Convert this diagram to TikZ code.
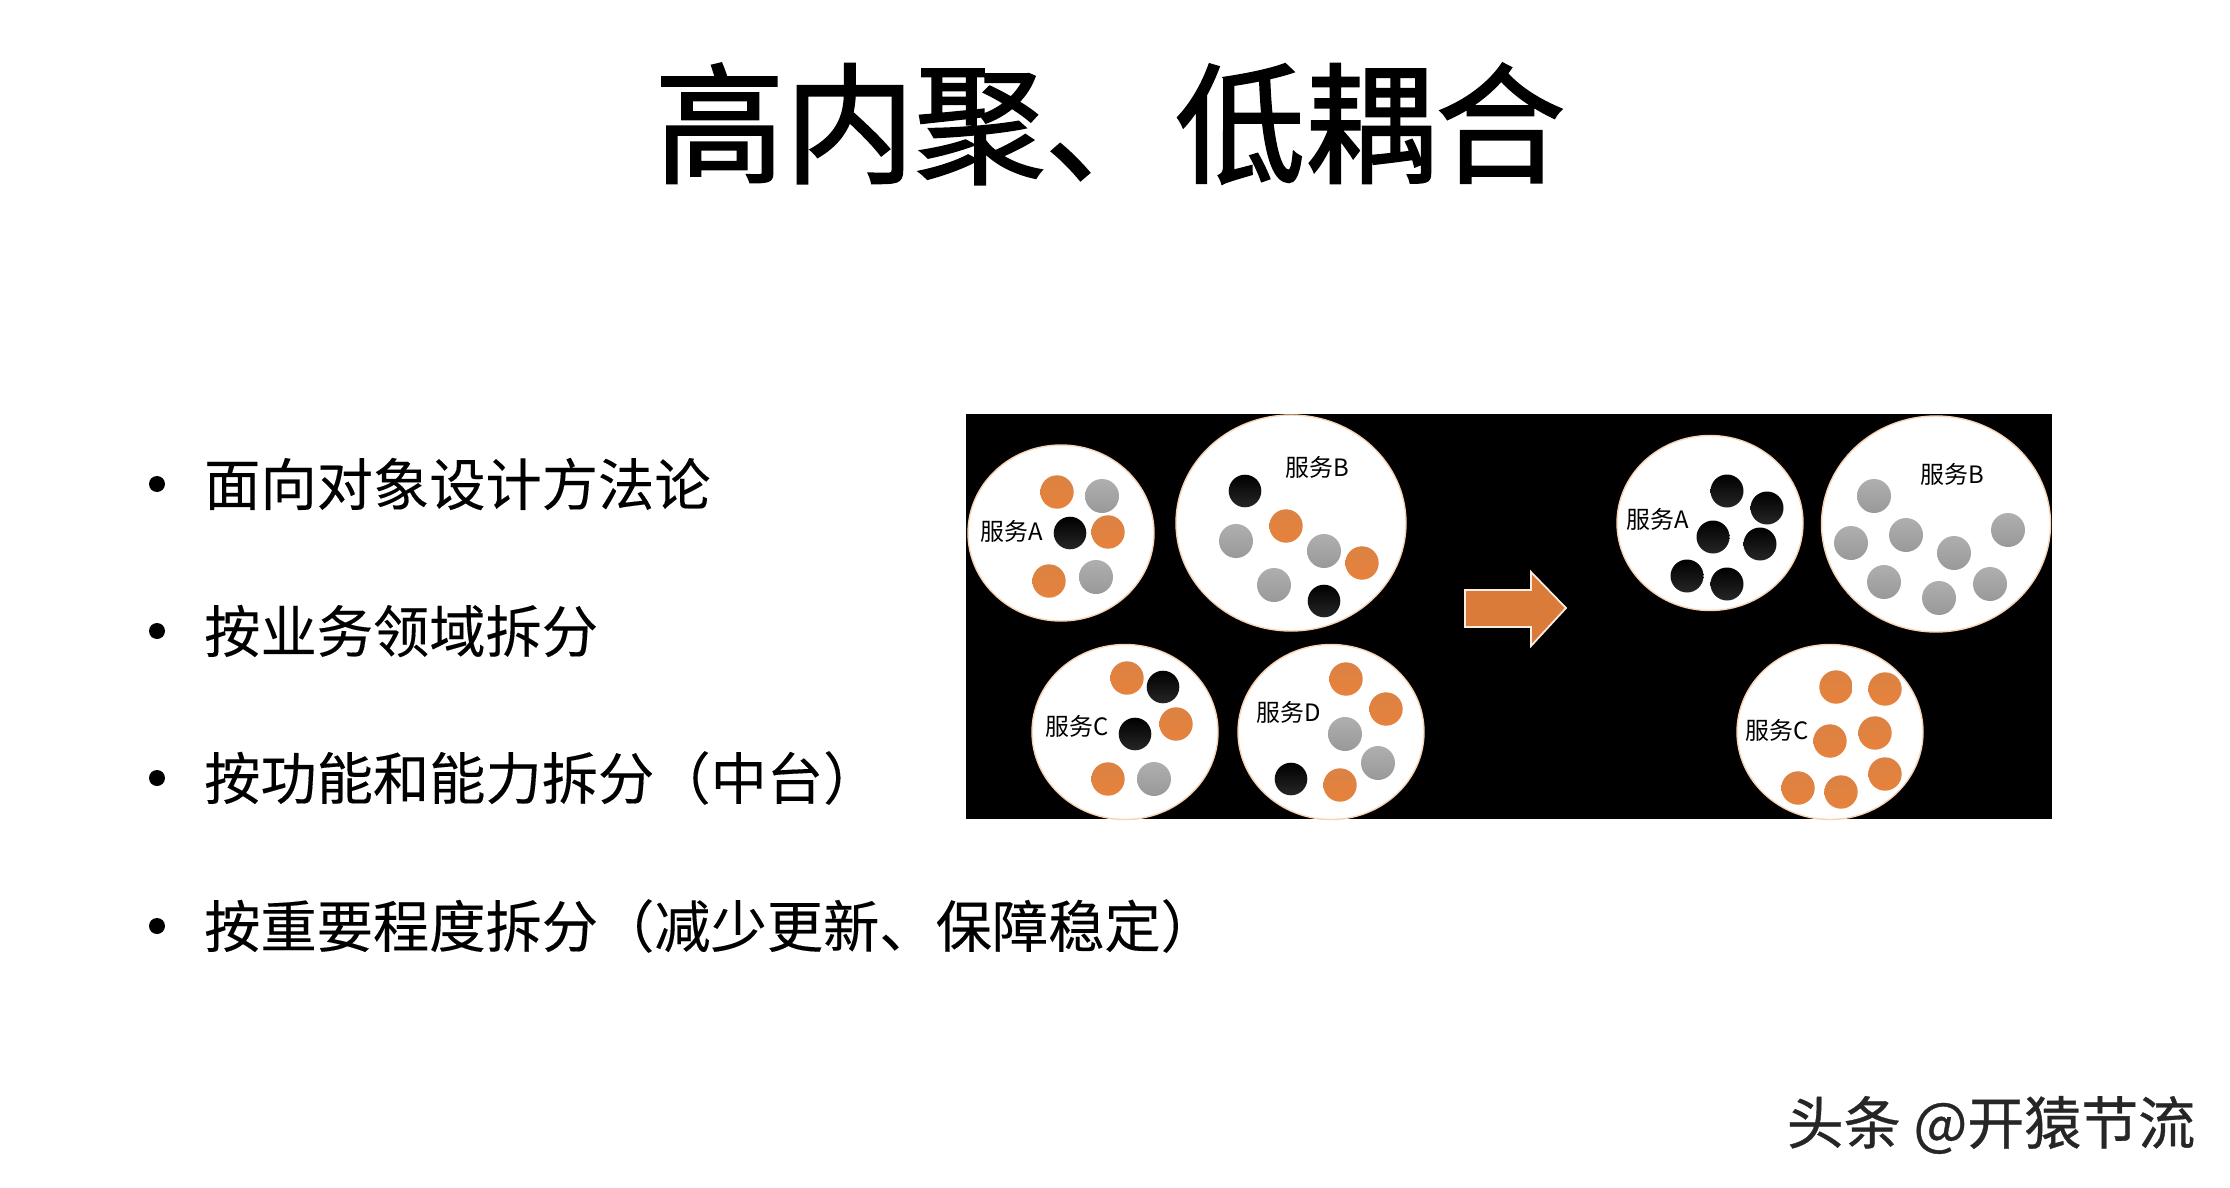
\documentclass[tikz,border=0pt]{standalone}
\usepackage{fontspec}
\setmainfont{Noto Sans CJK SC}
\newfontfamily\titlefont[FakeBold=1.6]{Noto Sans CJK SC}
\newfontfamily\itemfont[FakeBold=0.2]{Noto Sans CJK SC}
\newfontfamily\markfont[FakeBold=0.6]{Noto Sans CJK SC}
\usepackage{tikz}
\usetikzlibrary{calc}
\definecolor{ballorange}{HTML}{E6823C}
\definecolor{ballgrey}{HTML}{A6A6A6}
\definecolor{rimorange}{HTML}{F6D3B5}
\tikzset{
    title/.style={font=\titlefont\fontsize{37}{40}\selectfont,inner sep=0pt},
    item/.style={anchor=west,font=\itemfont\fontsize{16}{18}\selectfont,inner sep=0pt},
    bulletdot/.style={fill=black,inner sep=0pt},
    mark text/.style={font=\markfont\fontsize{16.2}{18}\selectfont,text=black!85,inner sep=0pt},
    service/.style={fill=white,draw=rimorange,line width=0.4pt},
    label/.style={font=\fontsize{6.8}{8}\selectfont,inner sep=0pt},
    orangeball/.style={top color=ballorange!90!gray,bottom color=ballorange},
    greyball/.style={top color=ballgrey!90!white,bottom color=ballgrey!92!black},
    blackball/.style={top color=black,bottom color=black!85},
    movearrow/.style={fill=ballorange!95!black,draw=white!85!ballorange,line width=0.5pt}
}
\begin{document}
\begin{tikzpicture}[x=0.01cm,y=-0.01cm]
\useasboundingbox (0,0) rectangle (2230,1188);
\fill[white] (0,0) rectangle (2230,1188);

\node[title] (heading) at (1110,124) {高内聚、低耦合};

% bullets
\foreach \name/\ypos/\txt in {design/484/面向对象设计方法论,domain/631/按业务领域拆分,ability/778/按功能和能力拆分（中台）,weight/926/按重要程度拆分（减少更新、保障稳定）}{
    \fill[bulletdot] (157,\ypos) circle (8);
    \node[item] (item\name) at (203.5,\ypos) {\txt};
}

\fill[black] (966,414) rectangle (2052,819);

% before
\draw[service] (1061,533) ellipse (93 and 88);
\draw[service] (1291,523) ellipse (115 and 108);
\draw[service] (1125,732) ellipse (93 and 87.5);
\draw[service] (1331,732) ellipse (93 and 87.5);

\foreach \xpos/\ypos in {1057/492,1108/532,1049/581,1286/526,1362/563,1127/678,1176/724,1108/779,1346/679,1386/709,1340/785}
    \shade[orangeball] (\xpos,\ypos) circle (16.7);
\foreach \xpos/\ypos in {1102/496,1096/577,1236/541,1324/551,1274/585,1154/779,1345/734,1378/763}
    \shade[greyball] (\xpos,\ypos) circle (17);
\foreach \xpos/\ypos in {1070/533,1245/491,1324/601,1163/687,1135/734,1291/779}
    \shade[blackball] (\xpos,\ypos) circle (16.3);

\node[label] (beforeA) at (1012,531) {服务A};
\node[label] (beforeB) at (1317,467) {服务B};
\node[label] (beforeC) at (1077,726) {服务C};
\node[label] (beforeD) at (1289,712) {服务D};

\draw[movearrow] (1465,590)--(1531,590)--(1531,572)--(1566,608)--(1531,646)--(1531,627)--(1465,627)--cycle;

% after
\draw[service] (1710,523) ellipse (93 and 87.5);
\draw[service] (1936,524) ellipse (114.5 and 108);
\draw[service] (1830,732) ellipse (93 and 87.5);

\foreach \xpos/\ypos in {1727/491,1767/508,1713/537,1760/544,1687/576,1727/584}
    \shade[blackball] (\xpos,\ypos) circle (16.5);
\foreach \xpos/\ypos in {1874/496,1851/543,1906/535,1954/553,2008/530,1884/582,1939/598,1990/584}
    \shade[greyball] (\xpos,\ypos) circle (17);
\foreach \xpos/\ypos in {1836/687,1885/689,1875/733,1830/741,1885/774,1798/788,1841/792}
    \shade[orangeball] (\xpos,\ypos) circle (16.7);

\node[label] (afterA) at (1658,519) {服务A};
\node[label] (afterB) at (1952,474) {服务B};
\node[label] (afterC) at (1777,730) {服务C};

\node[mark text] (watermark) at (1991,1125) {头条 @开猿节流};
\end{tikzpicture}
\end{document}
